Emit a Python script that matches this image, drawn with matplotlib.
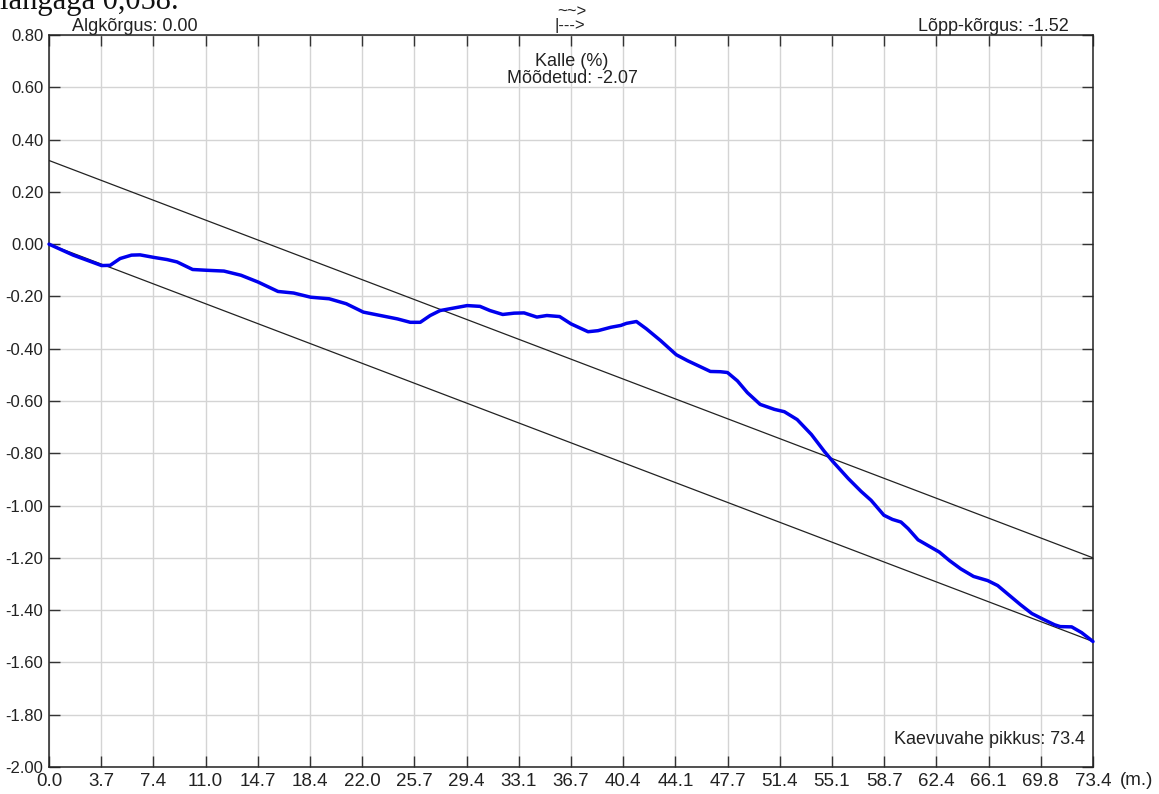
import matplotlib

matplotlib.use("Agg")
import matplotlib.pyplot as plt
import numpy as np


# Measured trench profile (distance in m, elevation in m)
DIST = [
    0.0, 1.7, 3.7, 4.3, 5.0, 5.8, 6.4, 7.4, 8.3, 9.0, 10.1, 11.1, 12.3, 13.5,
    14.7, 16.1, 17.2, 18.4, 19.7, 20.9, 22.1, 23.3, 24.5, 25.4, 26.1, 26.8,
    27.5, 28.5, 29.4, 30.3, 31.0, 31.9, 32.7, 33.4, 34.3, 35.0, 35.9, 36.7,
    37.9, 38.6, 39.5, 40.2, 40.6, 41.3, 42.0, 43.0, 44.1, 44.9, 45.8, 46.5,
    47.2, 47.7, 48.4, 49.1, 50.0, 51.0, 51.7, 52.6, 53.6, 54.5, 55.1, 56.2,
    57.1, 57.8, 58.7, 59.3, 59.9, 60.4, 61.1, 61.9, 62.6, 63.3, 64.1, 65.0,
    66.0, 66.7, 67.4, 68.3, 69.1, 69.9, 70.7, 71.1, 71.9, 72.6, 73.4,
]
ELEV = [
    0.000, -0.042, -0.082, -0.081, -0.055, -0.042, -0.041, -0.051, -0.059,
    -0.068, -0.097, -0.100, -0.103, -0.119, -0.145, -0.181, -0.187, -0.203,
    -0.209, -0.228, -0.260, -0.273, -0.286, -0.299, -0.299, -0.273, -0.254,
    -0.244, -0.235, -0.238, -0.254, -0.269, -0.264, -0.263, -0.279, -0.273,
    -0.277, -0.305, -0.335, -0.331, -0.318, -0.311, -0.303, -0.296, -0.324,
    -0.369, -0.423, -0.446, -0.469, -0.487, -0.488, -0.491, -0.523, -0.568,
    -0.613, -0.632, -0.641, -0.671, -0.728, -0.792, -0.831, -0.897, -0.946,
    -0.980, -1.037, -1.053, -1.063, -1.088, -1.131, -1.156, -1.178, -1.210,
    -1.242, -1.271, -1.287, -1.306, -1.338, -1.379, -1.413, -1.435, -1.456,
    -1.463, -1.464, -1.486, -1.520,
]

# Design slope lines (start / end of trench)
LINE_X = [0.0, 73.4]
LOWER_LINE = [0.00, -1.52]
UPPER_LINE = [0.32, -1.20]

X_TICK_LABELS = [
    "0.0", "3.7", "7.4", "11.0", "14.7", "18.4", "22.0", "25.7", "29.4", "33.1",
    "36.7", "40.4", "44.1", "47.7", "51.4", "55.1", "58.7", "62.4", "66.1",
    "69.8", "73.4",
]
Y_TICKS = [0.8, 0.6, 0.4, 0.2, 0.0, -0.2, -0.4, -0.6, -0.8, -1.0, -1.2, -1.4,
           -1.6, -1.8, -2.0]

NARROW = ["Liberation Sans Narrow", "Liberation Sans", "DejaVu Sans"]
SANS = ["Liberation Sans", "DejaVu Sans"]

W, H = 1159, 794
fig = plt.figure(figsize=(W / 100, H / 100), dpi=100)
fig.patch.set_facecolor("white")

left, right, top, bottom = 49, 1093, 35, 767
ax = fig.add_axes([left / W, 1 - bottom / H, (right - left) / W, (bottom - top) / H])

ax.set_xlim(0, 73.4)
ax.set_ylim(-2.0, 0.8)

ax.set_xticks(np.linspace(0, 73.4, len(X_TICK_LABELS)))
ax.set_xticklabels(X_TICK_LABELS)
ax.set_yticks(Y_TICKS)
ax.set_yticklabels([f"{v:.2f}" for v in Y_TICKS])

ax.grid(True, color="#d4d4d4", linewidth=1.0, zorder=0)
ax.set_axisbelow(True)

ax.tick_params(axis="x", direction="in", top=True, bottom=True, length=8,
               width=1.0, color="#333333", pad=4, labelsize=13.5,
               labelcolor="#222222", labelfontfamily=NARROW)
ax.tick_params(axis="y", direction="in", left=True, right=True, length=8,
               width=1.0, color="#333333", pad=4, labelsize=12,
               labelcolor="#222222", labelfontfamily=NARROW)
for s in ax.spines.values():
    s.set_color("#222222")
    s.set_linewidth(1.1)

ax.plot(LINE_X, UPPER_LINE, color="#222222", linewidth=0.9, zorder=2)
ax.plot(LINE_X, LOWER_LINE, color="#222222", linewidth=0.9, zorder=2)
ax.plot(DIST, ELEV, color="#0000ee", linewidth=2.5, solid_joinstyle="round",
        solid_capstyle="round", zorder=3, clip_on=False)

# annotations
fig.text(72 / W, 1 - 31 / H, "Algkõrgus: 0.00", fontsize=13, family=SANS,
         color="#222222", ha="left", va="baseline")
fig.text(1069 / W, 1 - 31 / H, "Lõpp-kõrgus: -1.52", fontsize=13, family=SANS,
         color="#222222", ha="right", va="baseline")
ax.text(0.501, 0.976, "Kalle (%)\nMõõdetud: -2.07", transform=ax.transAxes,
        fontsize=13, family=SANS, color="#222222", ha="center", va="top",
        linespacing=1.05)
fig.text(1085 / W, 1 - 740 / H, "Kaevuvahe pikkus: 73.4", fontsize=13,
         family=SANS, color="#222222", ha="right", va="center")
fig.text(557 / W, 1 - 16 / H, "~~>", fontsize=12, family=SANS, color="#222222",
         ha="left", va="baseline")
fig.text(555 / W, 1 - 30 / H, "|--->", fontsize=12, family=SANS, color="#222222",
         ha="left", va="baseline")
fig.text(1120 / W, 1 - 772 / H, "(m.)", fontsize=13.5, family=NARROW,
         color="#222222", ha="left", va="top")

# clipped line of the surrounding document text
fig.text(0 / W, 1 - 9 / H, "langaga 0,058.", fontsize=22,
         family=["Liberation Serif", "DejaVu Serif"], color="#111111",
         ha="left", va="baseline")

fig.savefig("out.png", dpi=100, facecolor="white")
